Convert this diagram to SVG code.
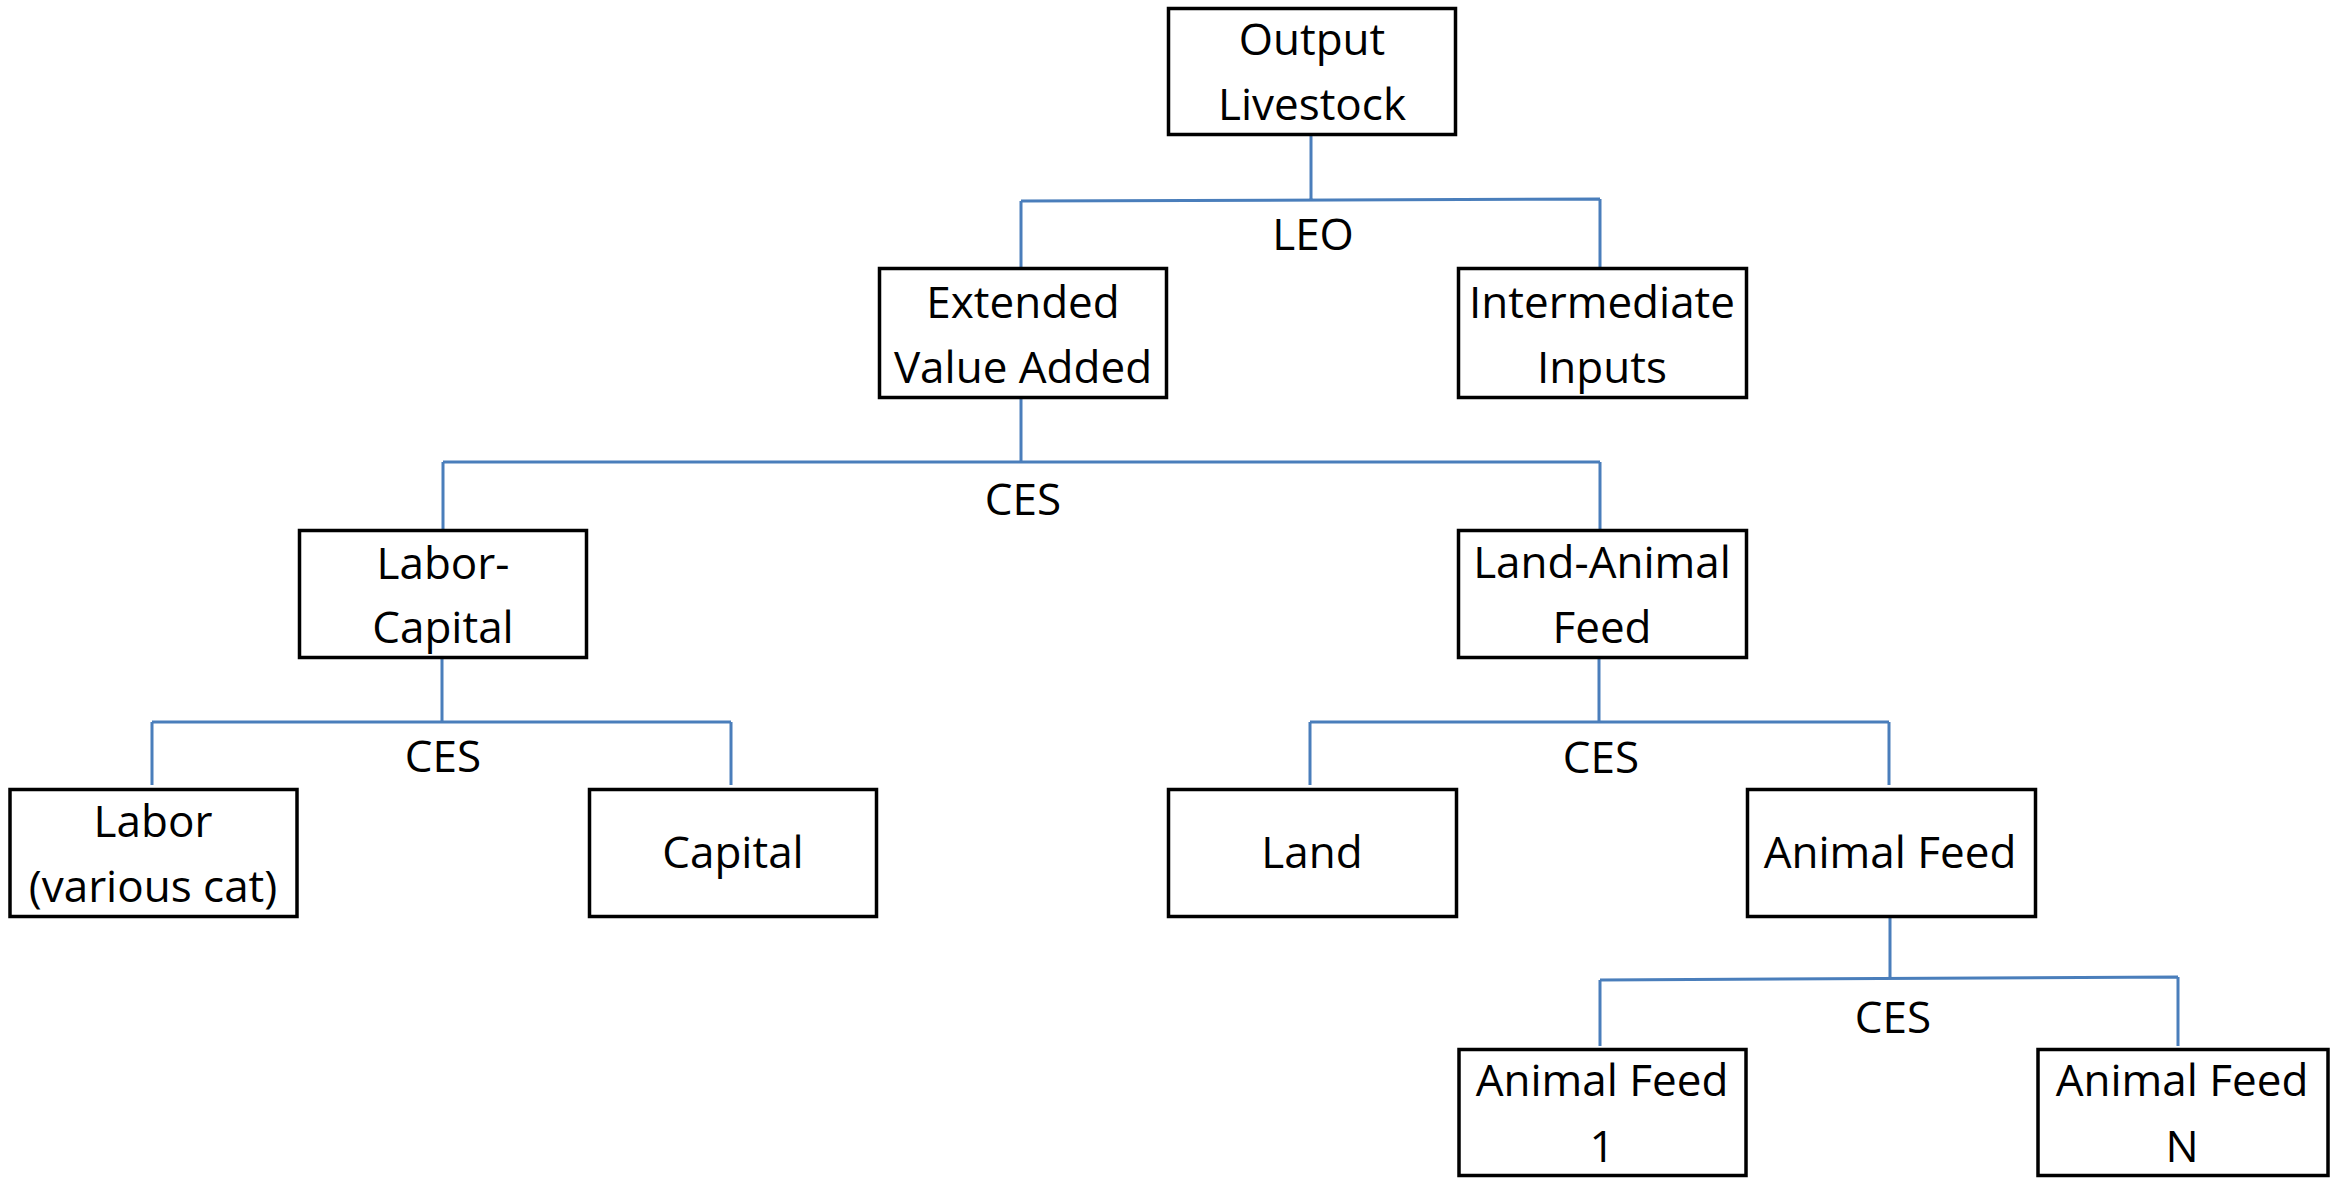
<svg xmlns="http://www.w3.org/2000/svg" width="2336" height="1179" viewBox="0 0 2336 1179">
  <style>
    .box rect { fill: #ffffff; stroke: #000000; stroke-width: 3.5; }
    .box text, .lbl { font-family: "Open Sans", "Liberation Sans", sans-serif; font-size: 44px; fill: #000000; text-anchor: middle; }
    #connectors path { fill: none; stroke: #4a7ebb; stroke-width: 3; }
  </style>
  <rect x="0" y="0" width="2336" height="1179" fill="#ffffff"/>

  <!-- tree connectors -->
  <g id="connectors">
    <path d="M1311 135 V200 M1021 201 L1600 199 M1021 201 V267 M1600 199 V267"/>
    <path d="M1021 399 V462 M443 462 H1600 M443 462 V529 M1600 462 V529"/>
    <path d="M442 659 V722 M152 722 H731 M152 722 V785 M731 722 V785"/>
    <path d="M1599 659 V722 M1310 722 H1889 M1310 722 V785 M1889 722 V785"/>
    <path d="M1890 917 V979 M1600 980 L2178 977 M1600 980 V1046 M2178 977 V1046"/>
  </g>

  <!-- nesting labels -->
  <g id="labels">
    <text class="lbl" x="1313" y="250">LEO</text>
    <text class="lbl" x="1023" y="515">CES</text>
    <text class="lbl" x="443" y="772">CES</text>
    <text class="lbl" x="1601" y="773">CES</text>
    <text class="lbl" x="1893" y="1033">CES</text>
  </g>

  <g id="output-livestock" class="box">
    <rect x="1168.5" y="8.5" width="287" height="126"/>
    <text x="1312" y="55">Output</text>
    <text x="1312" y="120">Livestock</text>
  </g>
  <g id="extended-value-added" class="box">
    <rect x="879.5" y="268.5" width="287" height="129"/>
    <text x="1023" y="318">Extended</text>
    <text x="1023" y="383">Value Added</text>
  </g>
  <g id="intermediate-inputs" class="box">
    <rect x="1458.5" y="268.5" width="288" height="129"/>
    <text x="1602" y="318">Intermediate</text>
    <text x="1602" y="383">Inputs</text>
  </g>
  <g id="labor-capital" class="box">
    <rect x="299.5" y="530.5" width="287" height="127"/>
    <text x="443" y="579">Labor-</text>
    <text x="443" y="643">Capital</text>
  </g>
  <g id="land-animal-feed" class="box">
    <rect x="1458.5" y="530.5" width="288" height="127"/>
    <text x="1602" y="578">Land-Animal</text>
    <text x="1602" y="643">Feed</text>
  </g>
  <g id="labor" class="box">
    <rect x="10" y="789.5" width="287" height="127"/>
    <text x="153" y="837">Labor</text>
    <text x="153" y="902">(various cat)</text>
  </g>
  <g id="capital" class="box">
    <rect x="589.5" y="789.5" width="287" height="127"/>
    <text x="733" y="868">Capital</text>
  </g>
  <g id="land" class="box">
    <rect x="1168.5" y="789.5" width="288" height="127"/>
    <text x="1312" y="868">Land</text>
  </g>
  <g id="animal-feed" class="box">
    <rect x="1747.5" y="789.5" width="288" height="127"/>
    <text x="1890" y="868">Animal Feed</text>
  </g>
  <g id="animal-feed-1" class="box">
    <rect x="1459" y="1049.5" width="287" height="126"/>
    <text x="1602" y="1096">Animal Feed</text>
    <text x="1602" y="1162">1</text>
  </g>
  <g id="animal-feed-n" class="box">
    <rect x="2038" y="1049.5" width="290" height="126"/>
    <text x="2182" y="1096">Animal Feed</text>
    <text x="2182" y="1162">N</text>
  </g>
</svg>
